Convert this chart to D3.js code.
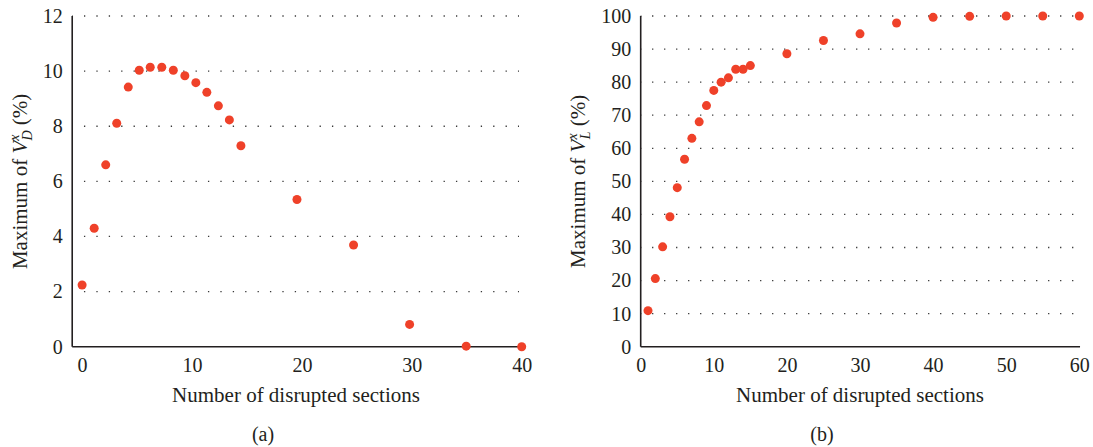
<!DOCTYPE html>
<html>
<head>
<meta charset="utf-8">
<script src="https://cdn.jsdelivr.net/npm/d3@7"></script>
<style>
  body { margin: 0; background: #fff; }
</style>
</head>
<body>
<div id="chart"></div>
<script>
// panel (a): maximum of V_D^x against number of disrupted sections
const sectionsA = [0, 1.1, 2.15, 3.15, 4.2, 5.2, 6.2, 7.25, 8.3, 9.35, 10.35, 11.35, 12.4, 13.4, 14.45, 19.55, 24.7, 29.8, 34.95, 40];
const maxVD = [2.24, 4.3, 6.6, 8.11, 9.42, 10.03, 10.14, 10.14, 10.03, 9.83, 9.58, 9.23, 8.74, 8.23, 7.29, 5.34, 3.69, 0.81, 0.02, 0];
const xTicksA = [0, 10, 20, 30, 40];
const yTicksA = [0, 2, 4, 6, 8, 10, 12];

// panel (b): maximum of V_L^x against number of disrupted sections
const sectionsB = [1, 2, 3, 4, 5, 6, 7, 8, 9, 10, 11, 12, 13, 14, 15, 20, 25, 30, 35, 40, 45, 50, 55, 60];
const maxVL = [10.9, 20.6, 30.2, 39.3, 48.1, 56.7, 63.0, 68.0, 72.9, 77.5, 80.0, 81.3, 83.9, 83.9, 85.0, 88.6, 92.6, 94.6, 97.9, 99.6, 99.9, 100, 100, 100];
const xTicksB = [0, 10, 20, 30, 40, 50, 60];
const yTicksB = [0, 10, 20, 30, 40, 50, 60, 70, 80, 90, 100];

const WIDTH = 1093, HEIGHT = 447;
const TOP = 16, BOTTOM = 346.7;
const DOT = "#ef4129";
const INK = "#231f20";
const FONT = "'Liberation Serif', Tinos, 'Times New Roman', 'DejaVu Serif', serif";

const svg = d3.select("#chart")
  .append("svg")
    .attr("width", WIDTH)
    .attr("height", HEIGHT)
    .attr("font-family", FONT)
    .style("font-family", FONT);

function panel(p) {
  const x = d3.scaleLinear().domain(p.xDomain).range(p.xRange);
  const y = d3.scaleLinear().domain(p.yDomain).range([BOTTOM, TOP]);
  const g = svg.append("g");
  const left = x(p.axisStart), right = x(p.axisEnd);

  // dotted grid lines (none at zero)
  g.selectAll(".grid")
    .data(p.yTicks.filter(d => d > 0))
    .enter().append("line")
      .attr("x1", left)
      .attr("x2", p.gridEnd)
      .attr("y1", d => y(d))
      .attr("y2", d => y(d))
      .attr("stroke", "#3a3a3a")
      .attr("stroke-width", 1.3)
      .attr("stroke-dasharray", `1.3,${p.gridStep - 1.3}`)
      .attr("stroke-dashoffset", 0.65);

  // axis lines
  g.append("line")
    .attr("x1", left).attr("x2", left)
    .attr("y1", y(p.yDomain[1])).attr("y2", BOTTOM)
    .attr("stroke", INK).attr("stroke-width", 1.6);
  g.append("line")
    .attr("x1", left).attr("x2", right)
    .attr("y1", BOTTOM).attr("y2", BOTTOM)
    .attr("stroke", INK).attr("stroke-width", 1.6);

  // tick labels
  const xAxis = g.append("g")
    .attr("transform", `translate(0, ${BOTTOM})`)
    .call(d3.axisBottom(x).tickValues(p.xTicks).tickSize(0).tickPadding(11));
  const yAxis = g.append("g")
    .attr("transform", `translate(${left}, 0)`)
    .call(d3.axisLeft(y).tickValues(p.yTicks).tickSize(0).tickPadding(9.5));
  [xAxis, yAxis].forEach(a => {
    a.attr("font-family", FONT).attr("font-size", 20).attr("color", INK);
    a.select(".domain").remove();
  });

  // points
  g.selectAll("circle")
    .data(p.xs)
    .enter().append("circle")
      .attr("cx", d => x(d))
      .attr("cy", (d, i) => y(p.ys[i]))
      .attr("r", 4.5)
      .attr("fill", DOT);

  // axis titles
  g.append("text")
    .attr("x", p.titleX)
    .attr("y", 402)
    .attr("text-anchor", "middle")
    .attr("font-size", 21)
    .attr("fill", INK)
    .text("Number of disrupted sections");

  const yt = g.append("text")
    .attr("transform", `translate(${p.yTitleX}, ${(TOP + BOTTOM) / 2}) rotate(-90)`)
    .attr("text-anchor", "middle")
    .attr("font-size", 21)
    .attr("fill", INK);
  yt.append("tspan").text("Maximum of ");
  yt.append("tspan").attr("font-style", "italic").text("V");
  yt.append("tspan").attr("font-style", "italic").attr("font-size", 14).attr("dy", -8).text("x");
  yt.append("tspan").attr("font-style", "italic").attr("font-size", 14).attr("dx", -6).attr("dy", 13).text(p.sub);
  yt.append("tspan").attr("dy", -5).text(" (%)");

  g.append("text")
    .attr("x", p.tagX)
    .attr("y", 441)
    .attr("text-anchor", "middle")
    .attr("font-size", 20)
    .attr("fill", INK)
    .text(p.tag);
}

panel({
  xs: sectionsA, ys: maxVD,
  xTicks: xTicksA, yTicks: yTicksA,
  xDomain: [0, 40], xRange: [82.1, 521.7],
  yDomain: [0, 12],
  axisStart: -0.9, axisEnd: 40.3,
  gridEnd: 519, gridStep: 12.4,
  titleX: 296, yTitleX: 27, tagX: 263, tag: "(a)", sub: "D"
});

panel({
  xs: sectionsB, ys: maxVL,
  xTicks: xTicksB, yTicks: yTicksB,
  xDomain: [0, 60], xRange: [640.7, 1079.3],
  yDomain: [0, 100],
  axisStart: 0, axisEnd: 60.1,
  gridEnd: 1074, gridStep: 12,
  titleX: 860, yTitleX: 585, tagX: 822, tag: "(b)", sub: "L"
});
</script>
</body>
</html>
